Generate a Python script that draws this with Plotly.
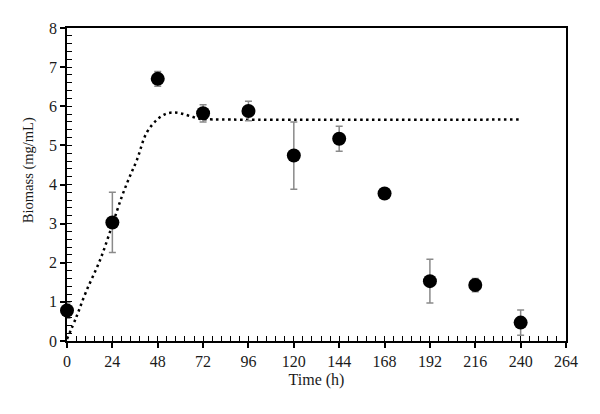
import plotly.graph_objects as go

# Measured data
time_h = [0, 24, 48, 72, 96, 120, 144, 168, 192, 216, 240]
biomass = [0.78, 3.03, 6.70, 5.82, 5.88, 4.74, 5.17, 3.77, 1.53, 1.43, 0.47]
biomass_err = [0.20, 0.77, 0.19, 0.22, 0.25, 0.86, 0.32, 0.05, 0.56, 0.17, 0.32]

# Model curve (dotted)
model_t = [0, 5, 10, 17.5, 24, 29, 33, 37, 42, 47.5, 52, 56, 60, 65, 70, 72, 240]
model_y = [0.05, 0.62, 1.25, 2.07, 2.97, 3.69, 4.18, 4.63, 5.31, 5.65, 5.80, 5.84, 5.82, 5.75, 5.68, 5.67, 5.66]

x_ticks = [0, 24, 48, 72, 96, 120, 144, 168, 192, 216, 240, 264]
y_ticks = [0, 1, 2, 3, 4, 5, 6, 7, 8]

font_family = "Liberation Serif"

fig = go.Figure()

fig.add_trace(go.Scatter(
    x=model_t, y=model_y, mode="lines",
    line=dict(color="black", width=2.5, dash="2.5px,3.5px", shape="spline"),
    showlegend=False, hoverinfo="skip",
))

fig.add_trace(go.Scatter(
    x=time_h, y=biomass, mode="markers",
    marker=dict(color="black", size=14),
    error_y=dict(type="data", array=biomass_err, color="#8a8a8a", thickness=1.5, width=3.5),
    cliponaxis=False,
    showlegend=False,
))

# dummy trace to anchor overlay axes (inner tick marks)
fig.add_trace(go.Scatter(x=[None], y=[None], xaxis="x2", yaxis="y2", showlegend=False, hoverinfo="skip"))

axis_font = dict(family=font_family, size=16, color="#1a1a1a")

fig.update_layout(
    width=600, height=414,
    margin=dict(l=67, r=34, t=28, b=73),
    paper_bgcolor="white", plot_bgcolor="white",
    font=dict(family=font_family, size=16, color="#1a1a1a"),
    xaxis=dict(
        range=[0, 264], tickvals=x_ticks, ticktext=[str(v) for v in x_ticks],
        ticks="outside", ticklen=5, tickwidth=1.5, tickcolor="black",
        showline=True, linecolor="black", linewidth=1.5, mirror=True,
        showgrid=False, zeroline=False, tickfont=axis_font,
        title=dict(text="Time (h)", font=axis_font, standoff=5),
    ),
    yaxis=dict(
        range=[0, 8], tickvals=y_ticks, ticktext=[str(v) for v in y_ticks],
        ticks="outside", ticklen=5, tickwidth=1.5, tickcolor="black",
        showline=True, linecolor="black", linewidth=1.5, mirror=True,
        showgrid=False, zeroline=False, tickfont=axis_font,
    ),
    xaxis2=dict(
        overlaying="x", range=[0, 264], tick0=0, dtick=4.8,
        ticks="inside", ticklen=5, tickwidth=1.2, tickcolor="black",
        showticklabels=False, showgrid=False, zeroline=False, showline=False,
        side="bottom",
    ),
    yaxis2=dict(
        overlaying="y", range=[0, 8], tick0=0, dtick=0.2,
        ticks="inside", ticklen=5, tickwidth=1.2, tickcolor="black",
        showticklabels=False, showgrid=False, zeroline=False, showline=False,
        side="left",
    ),
    annotations=[dict(
        text="Biomass (mg/mL)", textangle=-90, showarrow=False,
        xref="paper", yref="paper", x=-0.078, y=0.546,
        xanchor="center", yanchor="middle",
        font=dict(family=font_family, size=14.5, color="#1a1a1a"),
    )],
)

fig.write_html("out.html")
